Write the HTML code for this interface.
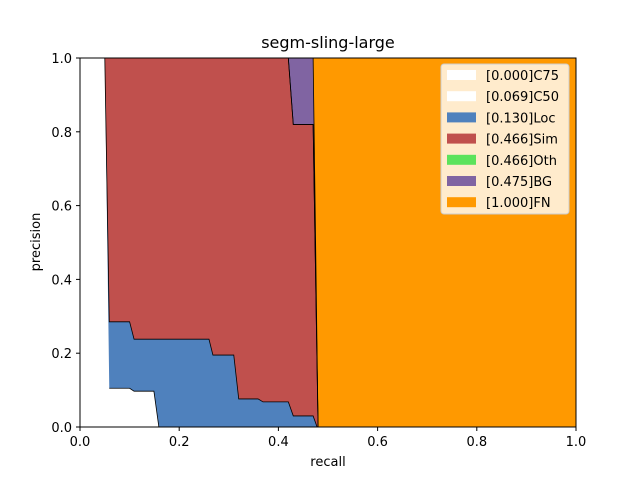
<!DOCTYPE html>
<html><head><meta charset="utf-8"><style>
body{margin:0;background:#fff;}
svg text{font-family:"DejaVu Sans","Liberation Sans",sans-serif;}
</style></head><body>
<svg id="chart" width="640" height="480" xmlns="http://www.w3.org/2000/svg">
<rect width="640" height="480" fill="#fff"/>
<g id="fills"></g>
<g id="lines"></g>
<rect x="80" y="58" width="496" height="369" fill="none" stroke="#000" stroke-width="1"/>
<g id="ticks"></g>
<text x="328" y="48" font-size="16" text-anchor="middle">segm-sling-large</text>
<text x="328" y="466" font-size="13" text-anchor="middle">recall</text>
<text x="40" y="242" font-size="13" text-anchor="middle" transform="rotate(-90 40 242)">precision</text>
<g id="legend"></g>
</svg>
<script>
const recall = [0,0.05,0.059,0.10,0.109,0.149,0.159,0.26,0.268,0.31,0.32,0.359,0.369,0.42,0.43,0.47,0.478,0.48,1.0];
const c75 = [1,1,0,0,0,0,0,0,0,0,0,0,0,0,0,0,0,0,0];
const c50 = [1,1,0.105,0.105,0.097,0.097,0,0,0,0,0,0,0,0,0,0,0,0,0];
const loc = [1,1,0.285,0.285,0.238,0.238,0.238,0.238,0.195,0.195,0.076,0.076,0.068,0.068,0.030,0.030,0,0,0];
const sim = [1,1,1,1,1,1,1,1,1,1,1,1,1,1,0.82,0.82,0.16,0,0];
const oth = [1,1,1,1,1,1,1,1,1,1,1,1,1,1,0.82,0.82,0.16,0,0];
const bg = [1,1,1,1,1,1,1,1,1,1,1,1,1,1,1,1,0.2,0,0];
const seriesNames = ["[0.000]C75","[0.069]C50","[0.130]Loc","[0.466]Sim","[0.466]Oth","[0.475]BG","[1.000]FN"];
const xTicks = [0,0.2,0.4,0.6,0.8,1.0];
const yTicks = [0,0.2,0.4,0.6,0.8,1.0];
const colors = ["#ffffff","#ffffff","#4f81bd","#c0504d","#5ce35c","#8064a2","#ff9900"];
const NS="http://www.w3.org/2000/svg";
const X=r=>80+496*r, Y=p=>427-369*p;
const zero=recall.map(()=>0), one=recall.map(()=>1);
const curves=[zero,c75,c50,loc,sim,oth,bg,one];
const fills=document.getElementById('fills'), lines=document.getElementById('lines');
for(let k=0;k<7;k++){
  const lo=curves[k], hi=curves[k+1];
  let d='M'+recall.map((r,i)=>X(r)+','+Y(hi[i])).join(' L');
  for(let i=recall.length-1;i>=0;i--) d+=' L'+X(recall[i])+','+Y(lo[i]);
  const p=document.createElementNS(NS,'path');
  p.setAttribute('d',d+'Z');p.setAttribute('fill',colors[k]);
  
  
  fills.appendChild(p);
}
for(let k=2;k<7;k++){
  const c=curves[k];
  const start = (k===2)?2:1;
  const pts=[];
  for(let i=start;i<recall.length;i++) pts.push(X(recall[i])+','+Y(c[i]));
  const p=document.createElementNS(NS,'path');
  p.setAttribute('d','M'+pts.join(' L'));
  p.setAttribute('fill','none');p.setAttribute('stroke','#000');p.setAttribute('stroke-width','0.8');
  
  
  lines.appendChild(p);
}
const t=document.getElementById('ticks');
xTicks.forEach(v=>{
  const l=document.createElementNS(NS,'line');
  l.setAttribute('x1',X(v));l.setAttribute('x2',X(v));l.setAttribute('y1',427);l.setAttribute('y2',431);l.setAttribute('stroke','#000');
  
  
  t.appendChild(l);
  const s=document.createElementNS(NS,'text');
  s.setAttribute('x',X(v));s.setAttribute('y',446);s.setAttribute('font-size','13');s.setAttribute('text-anchor','middle');
  s.textContent=v.toFixed(1);
  
  
  t.appendChild(s);
});
yTicks.forEach(v=>{
  const l=document.createElementNS(NS,'line');
  l.setAttribute('x1',76);l.setAttribute('x2',80);l.setAttribute('y1',Y(v));l.setAttribute('y2',Y(v));l.setAttribute('stroke','#000');
  
  
  t.appendChild(l);
  const s=document.createElementNS(NS,'text');
  s.setAttribute('x',72);s.setAttribute('y',Y(v)+5);s.setAttribute('font-size','13');s.setAttribute('text-anchor','end');
  s.textContent=v.toFixed(1);
  
  
  t.appendChild(s);
});
const lg=document.getElementById('legend');
const box=document.createElementNS(NS,'rect');
box.setAttribute('x',441);box.setAttribute('y',64);box.setAttribute('width',128);box.setAttribute('height',150);
box.setAttribute('rx',3);box.setAttribute('fill','#fff');box.setAttribute('fill-opacity','0.8');box.setAttribute('stroke','#ccc');


lg.appendChild(box);
seriesNames.forEach((n,i)=>{
  const y=75+i*21.2;
  const r=document.createElementNS(NS,'rect');
  r.setAttribute('x',447);r.setAttribute('y',y-5);r.setAttribute('width',29);r.setAttribute('height',10);r.setAttribute('fill',colors[i]);
  
  
  lg.appendChild(r);
  const s=document.createElementNS(NS,'text');
  s.setAttribute('x',486);s.setAttribute('y',y+5);s.setAttribute('font-size','13');
  s.textContent=n;
  
  
  lg.appendChild(s);
});
</script>
</body></html>
